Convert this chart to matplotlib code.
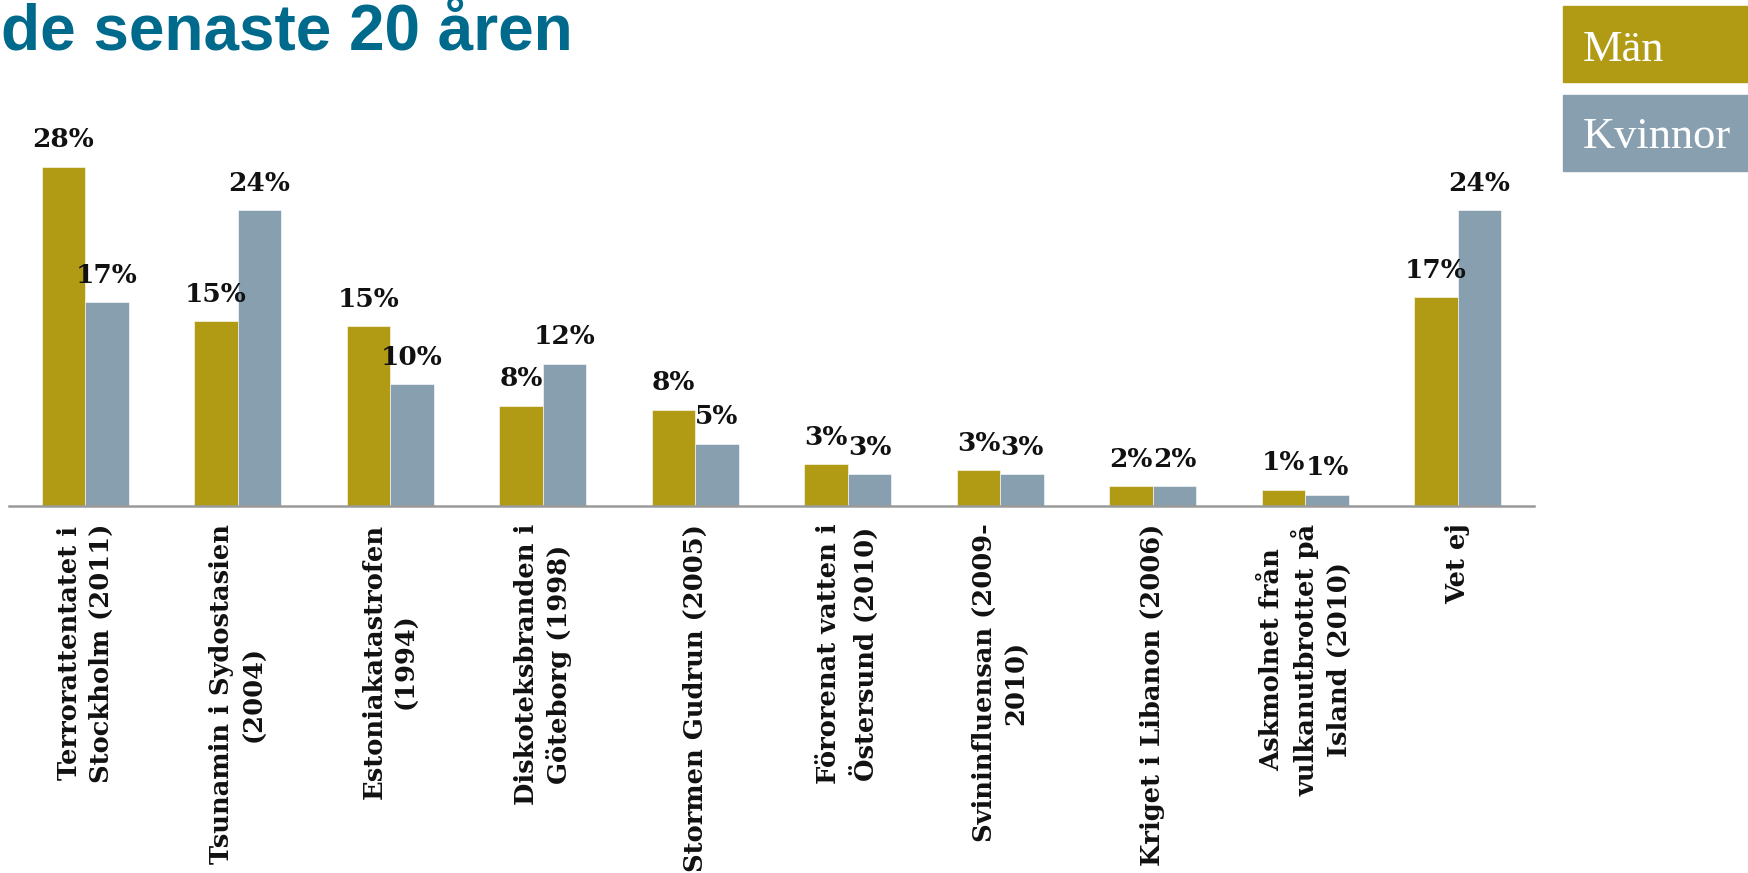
import matplotlib.pyplot as plt
from matplotlib.patches import Rectangle

# data
categories = ['Terrorattentatet i\nStockholm (2011)', 'Tsunamin i Sydostasien\n(2004)',
              'Estoniakatastrofen\n(1994)', 'Diskoteksbranden i\nGöteborg (1998)',
              'Stormen Gudrun (2005)', 'Förorenat vatten i\nÖstersund (2010)',
              'Svininfluensan (2009-\n2010)', 'Kriget i Libanon (2006)',
              'Askmolnet från\nvulkanutbrottet på\nIsland (2010)', 'Vet ej']
man = [28.0, 15.2, 14.8, 8.25, 7.9, 3.4, 2.9, 1.6, 1.3, 17.2]
kvinnor = [16.8, 24.4, 10.0, 11.7, 5.1, 2.6, 2.6, 1.6, 0.9, 24.4]

gold = '#b29b14'
grey = '#889fb0'
teal = '#006a8c'

W, H = 1749, 873
fig = plt.figure(figsize=(W / 100, H / 100), dpi=100)
ax = fig.add_axes([9 / W, (H - 505.5) / H, 1525 / W, 405.5 / H])

w = 0.285
x = list(range(len(categories)))
b1 = ax.bar([i - w / 2 for i in x], man, width=w, color=gold, edgecolor='white', linewidth=0.4)
b2 = ax.bar([i + w / 2 for i in x], kvinnor, width=w, color=grey, edgecolor='white', linewidth=0.4)

for bars, vals in ((b1, man), (b2, kvinnor)):
    for r, v in zip(bars, vals):
        ax.annotate(f'{v:.0f}%', (r.get_x() + r.get_width() / 2, v), xytext=(0, 14),
                    textcoords='offset points', ha='center', va='baseline',
                    fontsize=19, fontweight='bold', family='DejaVu Serif', color='#111111')

ax.set_xlim(-0.5, len(categories) - 0.5)
ax.set_ylim(0, 405.5 / 12.107)
ax.set_yticks([])
ax.set_xticks(x)
ax.set_xticklabels(categories, rotation=90, ha='center', va='top', multialignment='center',
                   linespacing=1.35, fontsize=18.5, fontweight='bold', family='DejaVu Serif',
                   color='#111111')
ax.tick_params(axis='x', length=0, pad=13)
for s in ('top', 'right', 'left'):
    ax.spines[s].set_visible(False)
ax.spines['bottom'].set_color('#9a9a9a')
ax.spines['bottom'].set_linewidth(1.8)
ax.patch.set_alpha(0)

# title (sits right at the top edge in the original)
fig.text(1 / W, 1 - 50 / H, 'de senaste 20 åren', ha='left', va='baseline',
         fontsize=46, fontweight='bold', family='Liberation Sans', color=teal)

# legend boxes
fig.patches.append(Rectangle((1563 / W, 1 - 82 / H), 190 / W, 76 / H,
                             transform=fig.transFigure, color=gold))
fig.patches.append(Rectangle((1563 / W, 1 - 171 / H), 190 / W, 76 / H,
                             transform=fig.transFigure, color=grey))
fig.text(1583 / W, 1 - 61 / H, 'Män', ha='left', va='baseline', fontsize=32,
         family='Liberation Serif', color='white')
fig.text(1583 / W, 1 - 148 / H, 'Kvinnor', ha='left', va='baseline', fontsize=32,
         family='Liberation Serif', color='white')

fig.savefig('out.png', dpi=100)
